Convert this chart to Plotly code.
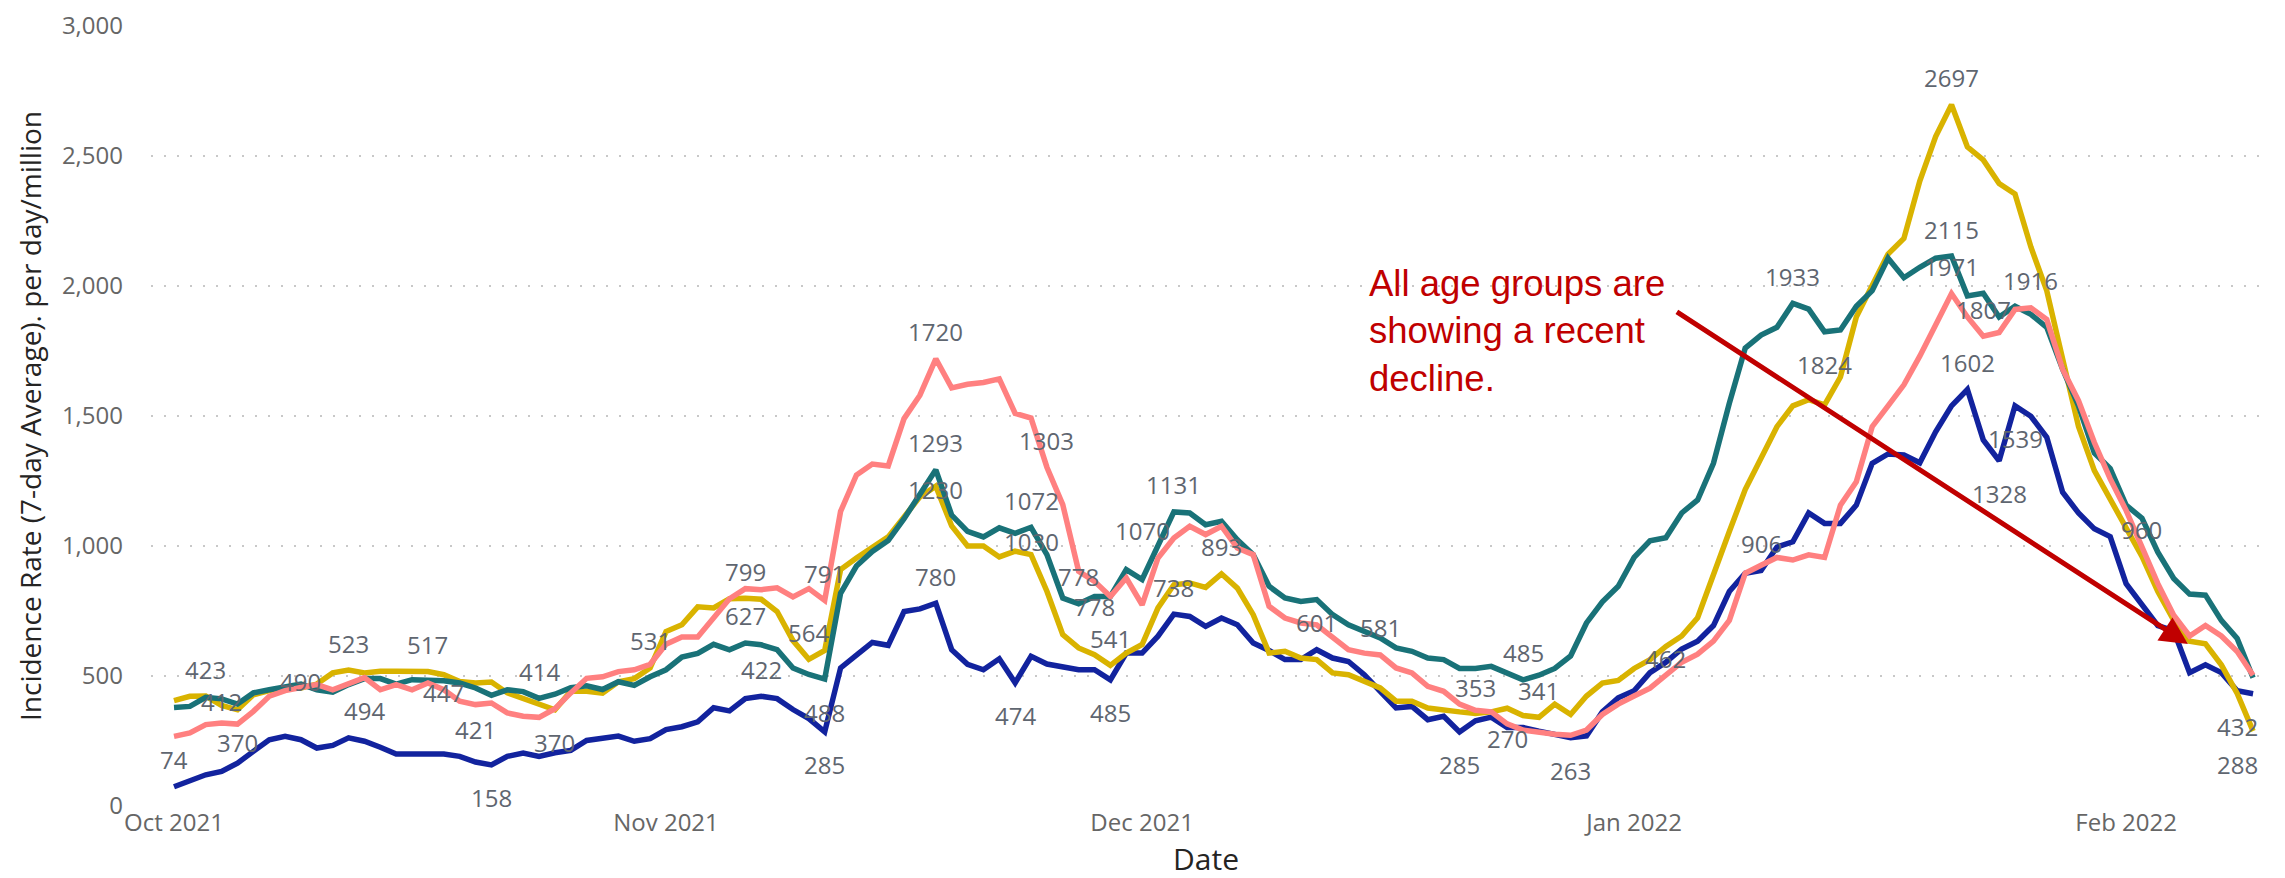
import pandas as pd
import plotly.graph_objects as go

# daily 7-day average incidence, 1 Oct 2021 .. 9 Feb 2022
dates = pd.date_range("2021-10-01", periods=132, freq="D")

navy = [74, 97, 120, 133, 165, 210, 255, 268, 255, 223,
        233, 262, 249, 226, 200, 200, 200, 200, 191, 169,
        158, 191, 204, 191, 205, 214, 252, 259, 269, 249,
        259, 294, 305, 324, 378, 366, 413, 422, 413, 371,
        336, 285, 531, 580, 629, 618, 748, 758, 780, 601,
        545, 524, 566, 474, 576, 546, 533, 524, 524, 485,
        588, 588, 653, 738, 729, 691, 723, 697, 627, 598,
        563, 563, 601, 569, 556, 505, 441, 377, 383, 332,
        345, 285, 328, 342, 302, 302, 288, 276, 263, 270,
        362, 416, 443, 513, 553, 604, 634, 694, 825, 895,
        906, 996, 1016, 1127, 1087, 1087, 1157, 1318, 1354, 1350,
        1320, 1439, 1539, 1602, 1408, 1328, 1539, 1499, 1418, 1207,
        1127, 1066, 1036, 855, 775, 694, 674, 513, 543, 513,
        443, 432]

teal = [379, 383, 418, 412, 392, 435, 447, 460, 469, 447,
        438, 467, 490, 490, 469, 486, 486, 482, 473, 454,
        426, 447, 440, 414, 430, 455, 462, 448, 478, 464,
        497, 524, 573, 587, 622, 601, 627, 620, 601, 531,
        506, 488, 818, 923, 979, 1021, 1105, 1203, 1293, 1119,
        1056, 1035, 1070, 1049, 1072, 967, 800, 778, 806, 806,
        909, 871, 1005, 1131, 1127, 1082, 1095, 1024, 967, 845,
        800, 787, 794, 736, 697, 672, 646, 608, 595, 569,
        563, 529, 529, 537, 513, 485, 503, 529, 577, 704,
        785, 845, 956, 1020, 1032, 1127, 1177, 1318, 1549, 1761,
        1811, 1841, 1933, 1911, 1824, 1831, 1922, 1982, 2107, 2032,
        2072, 2107, 2115, 1962, 1972, 1881, 1922, 1891, 1841, 1680,
        1539, 1358, 1298, 1157, 1107, 976, 875, 815, 811, 714,
        644, 493]

gold = [405, 422, 423, 387, 370, 428, 444, 454, 454, 469,
        512, 523, 512, 518, 518, 520, 517, 505, 479, 473,
        477, 435, 413, 392, 370, 441, 441, 434, 478, 490,
        531, 671, 697, 766, 762, 797, 799, 795, 748, 636,
        564, 598, 909, 954, 993, 1035, 1112, 1189, 1230, 1077,
        1000, 1000, 958, 980, 967, 826, 659, 608, 582, 541,
        588, 621, 762, 851, 858, 841, 893, 838, 736, 588,
        595, 569, 563, 512, 505, 479, 454, 403, 403, 377,
        367, 362, 356, 362, 376, 348, 341, 392, 352, 423,
        473, 483, 529, 563, 614, 654, 724, 895, 1056, 1217,
        1338, 1459, 1539, 1563, 1543, 1650, 1881, 2002, 2123, 2183,
        2404, 2575, 2697, 2535, 2485, 2394, 2354, 2150, 1982, 1720,
        1460, 1290, 1180, 1080, 960, 825, 714, 634, 624, 543,
        433, 288]

pink = [268, 281, 313, 319, 315, 364, 422, 444, 456, 467,
        447, 469, 494, 447, 467, 447, 473, 447, 403, 390,
        396, 358, 345, 341, 374, 435, 491, 497, 517, 524,
        545, 622, 650, 650, 727, 797, 836, 832, 839, 804,
        836, 791, 1133, 1273, 1315, 1308, 1490, 1580, 1720, 1608,
        1622, 1629, 1643, 1510, 1492, 1303, 1159, 903, 864, 806,
        877, 774, 954, 1031, 1076, 1044, 1076, 992, 967, 768,
        723, 704, 697, 646, 601, 588, 581, 531, 512, 460,
        441, 392, 368, 362, 316, 292, 282, 276, 272, 292,
        352, 392, 423, 453, 503, 553, 584, 634, 714, 895,
        926, 956, 946, 966, 956, 1157, 1247, 1459, 1539, 1620,
        1730, 1851, 1971, 1881, 1807, 1821, 1910, 1916, 1871, 1680,
        1559, 1398, 1258, 1137, 996, 855, 734, 654, 694, 654,
        594, 503]

# data labels: day index (from 1 Oct) and value shown
above_day = [0, 2, 11, 16, 23, 30, 36, 36, 37, 40, 41, 48, 48, 48, 54, 55, 57, 59,
             63, 63, 66, 72, 76, 82, 85, 86, 94, 100, 102, 112, 112, 112, 113, 114,
             117, 124]
above_val = [74, 423, 523, 517, 414, 531, 799, 627, 422, 564, 791, 1720, 1293, 780,
             1072, 1303, 778, 541, 1131, 738, 893, 601, 581, 353, 485, 341, 462, 906,
             1933, 2697, 2115, 1971, 1602, 1807, 1916, 960]
below_day = [4, 12, 19, 20, 24, 41, 41, 53, 59, 81, 88, 104, 115, 116, 130, 130]
below_val = [370, 494, 421, 158, 370, 488, 285, 474, 485, 285, 263, 1824, 1328, 1539,
             432, 288]
center_day = [3, 8, 17, 48, 54, 58, 61, 84]
center_val = [412, 490, 447, 1230, 1030, 778, 1070, 270]

month_ticks = ["2021-10-01", "2021-11-01", "2021-12-01", "2022-01-01", "2022-02-01"]
month_text = ["Oct 2021", "Nov 2021", "Dec 2021", "Jan 2022", "Feb 2022"]

note_text = "All age groups are<br>showing a recent<br>decline."

fig = go.Figure()
for vals, color in [(navy, "#12239E"), (gold, "#D9B300"),
                    (teal, "#197278"), (pink, "#FF8080")]:
    fig.add_trace(go.Scatter(x=dates, y=vals, mode="lines",
                             line=dict(color=color, width=5.5),
                             hoverinfo="skip", showlegend=False))

label_font = dict(family="Open Sans, sans-serif", size=24, color="#5f6670")


def add_labels(days, vals, shift):
    for d, v in zip(days, vals):
        fig.add_annotation(x=dates[d], y=v, text=str(v), showarrow=False,
                           yshift=shift, font=label_font)


add_labels(above_day, above_val, 27)
add_labels(below_day, below_val, -33)
add_labels(center_day, center_val, -3)

# callout text + arrow
fig.add_annotation(xref="paper", yref="paper", x=0.5768, y=0.698,
                   xanchor="left", yanchor="top", align="left",
                   text=note_text, showarrow=False, borderpad=0,
                   font=dict(family="Liberation Sans, Arial", size=36.5, color="#C00000"))
d0 = dates[0]
fig.add_annotation(x=d0 + pd.Timedelta(days=126.9), y=623,
                   ax=d0 + pd.Timedelta(days=94.6), ay=1904,
                   xref="x", yref="y", axref="x", ayref="y",
                   text="", showarrow=True, arrowhead=2, arrowsize=1.1,
                   arrowwidth=5, arrowcolor="#C00000", standoff=0)

fig.update_layout(
    width=2285, height=878,
    margin=dict(l=143, r=32, t=18, b=80),
    plot_bgcolor="white", paper_bgcolor="white",
    font=dict(family="Open Sans, sans-serif", color="#666666"),
    xaxis=dict(
        type="date", automargin=False,
        range=[d0 - pd.Timedelta(days=1.45), d0 + pd.Timedelta(days=131.5)],
        tickvals=month_ticks, ticktext=month_text,
        tickfont=dict(size=24, color="#666666"),
        showgrid=False, zeroline=False, showline=False, ticks="",
        title=dict(text="Date", standoff=10,
                   font=dict(size=30, color="#252423")),
    ),
    yaxis=dict(
        range=[0, 3000], dtick=500, tickformat=",", automargin=False,
        tickfont=dict(size=24, color="#666666"),
        showgrid=True, gridcolor="#C8C8C8", gridwidth=2, griddash="2px,11px",
        zeroline=False, showline=False, ticks="", ticklabelstandoff=27,
        title=dict(text="Incidence Rate (7-day Average). per day/million",
                   standoff=12, font=dict(size=28, color="#252423")),
    ),
)

fig.write_html("out.html")
